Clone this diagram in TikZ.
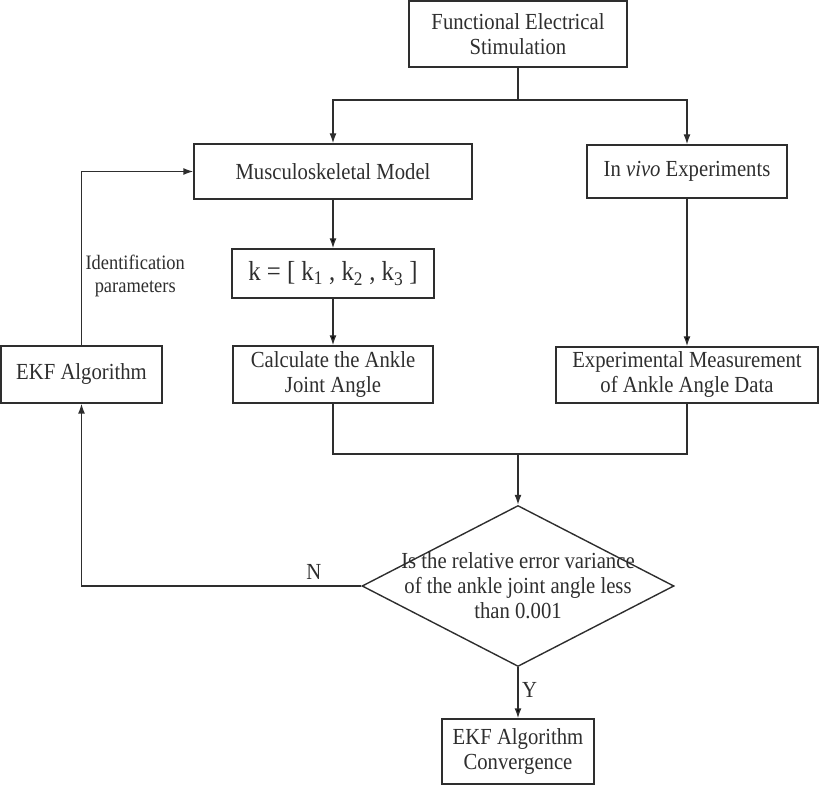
\documentclass[tikz,border=0pt]{standalone}
\usepackage{fontspec}
\setmainfont[FakeStretch=0.9]{Liberation Serif}
\usetikzlibrary{shapes.geometric,arrows.meta}
\definecolor{ink}{HTML}{2E2E2E}
\begin{document}
\begin{tikzpicture}[x=1pt,y=-1pt]
        \tikzstyle{block}=[rectangle,draw=ink,line width=1.4pt,text=ink,align=center,inner sep=2pt,font=\fontsize{23}{25}\selectfont]
        \tikzstyle{decision}=[diamond,draw=ink,line width=1.4pt,text=ink,align=center,inner sep=0pt,font=\fontsize{23}{25}\selectfont]
        \tikzstyle{edge}=[draw=ink,line width=1.4pt,-{Latex[length=10pt,width=7pt]}]
        \tikzstyle{line}=[draw=ink,line width=1.4pt]
        \tikzstyle{tag}=[text=ink,align=center,font=\fontsize{23}{25}\selectfont]
        \useasboundingbox (0,0) rectangle (820,786);
        \begin{scope}
           \node [block,minimum width=218pt,minimum height=66pt] (fes) at (518,34) {Functional Electrical\\Stimulation};
           \node [block,minimum width=278pt,minimum height=55pt] (musc) at (333,171.5) {Musculoskeletal Model};
           \node [block,minimum width=200pt,minimum height=53pt] (vivo) at (687,171.5) {In \textit{vivo} Experiments};
           \node [block,minimum width=202pt,minimum height=49pt,font=\fontsize{27.5}{29}\selectfont] (kvec) at (333,273.5) {k = [ k\textsubscript{1} , k\textsubscript{2} , k\textsubscript{3} ]};
           \node [block,minimum width=200pt,minimum height=57pt] (calc) at (333,374.5) {Calculate the Ankle\\Joint Angle};
           \node [block,minimum width=262pt,minimum height=56pt] (meas) at (687,375) {Experimental Measurement\\of Ankle Angle Data};
           \node [block,minimum width=161pt,minimum height=57pt] (ekf) at (81.5,374.5) {EKF Algorithm};
           \node [decision,minimum width=312pt,minimum height=161pt] (check) at (518,586) {\makebox[0pt]{Is the relative error variance}\\\makebox[0pt]{of the ankle joint angle less}\\\makebox[0pt]{than 0.001}};
           \node [block,minimum width=152pt,minimum height=65pt] (conv) at (518,751.5) {EKF Algorithm\\Convergence};
           \coordinate (split) at (518,100);
           \coordinate (merge) at (518,454);
           \draw[line] (fes.south) -- (split);
           \draw[edge] (split) -| (musc.north);
           \draw[edge] (split) -| (vivo.north);
           \path[edge] (musc) edge (kvec);
           \path[edge] (kvec) edge (calc);
           \path[edge] (vivo) edge (meas);
           \draw[line] (calc.south) |- (merge);
           \draw[line] (meas.south) |- (merge);
           \draw[edge] (merge) -- (check.north);
           \path[edge] (check) edge node[tag,right,pos=0.45] {Y} (conv);
           \draw[edge] (check.west) -| node[tag,above,pos=0.085,yshift=2pt] {N} (ekf.south);
           \draw[edge] (ekf.north) |- node[tag,right,pos=0.2,font=\fontsize{20.5}{23}\selectfont] {Identification\\parameters} (musc.west);
        \end{scope}
      \end{tikzpicture}
\end{document}
